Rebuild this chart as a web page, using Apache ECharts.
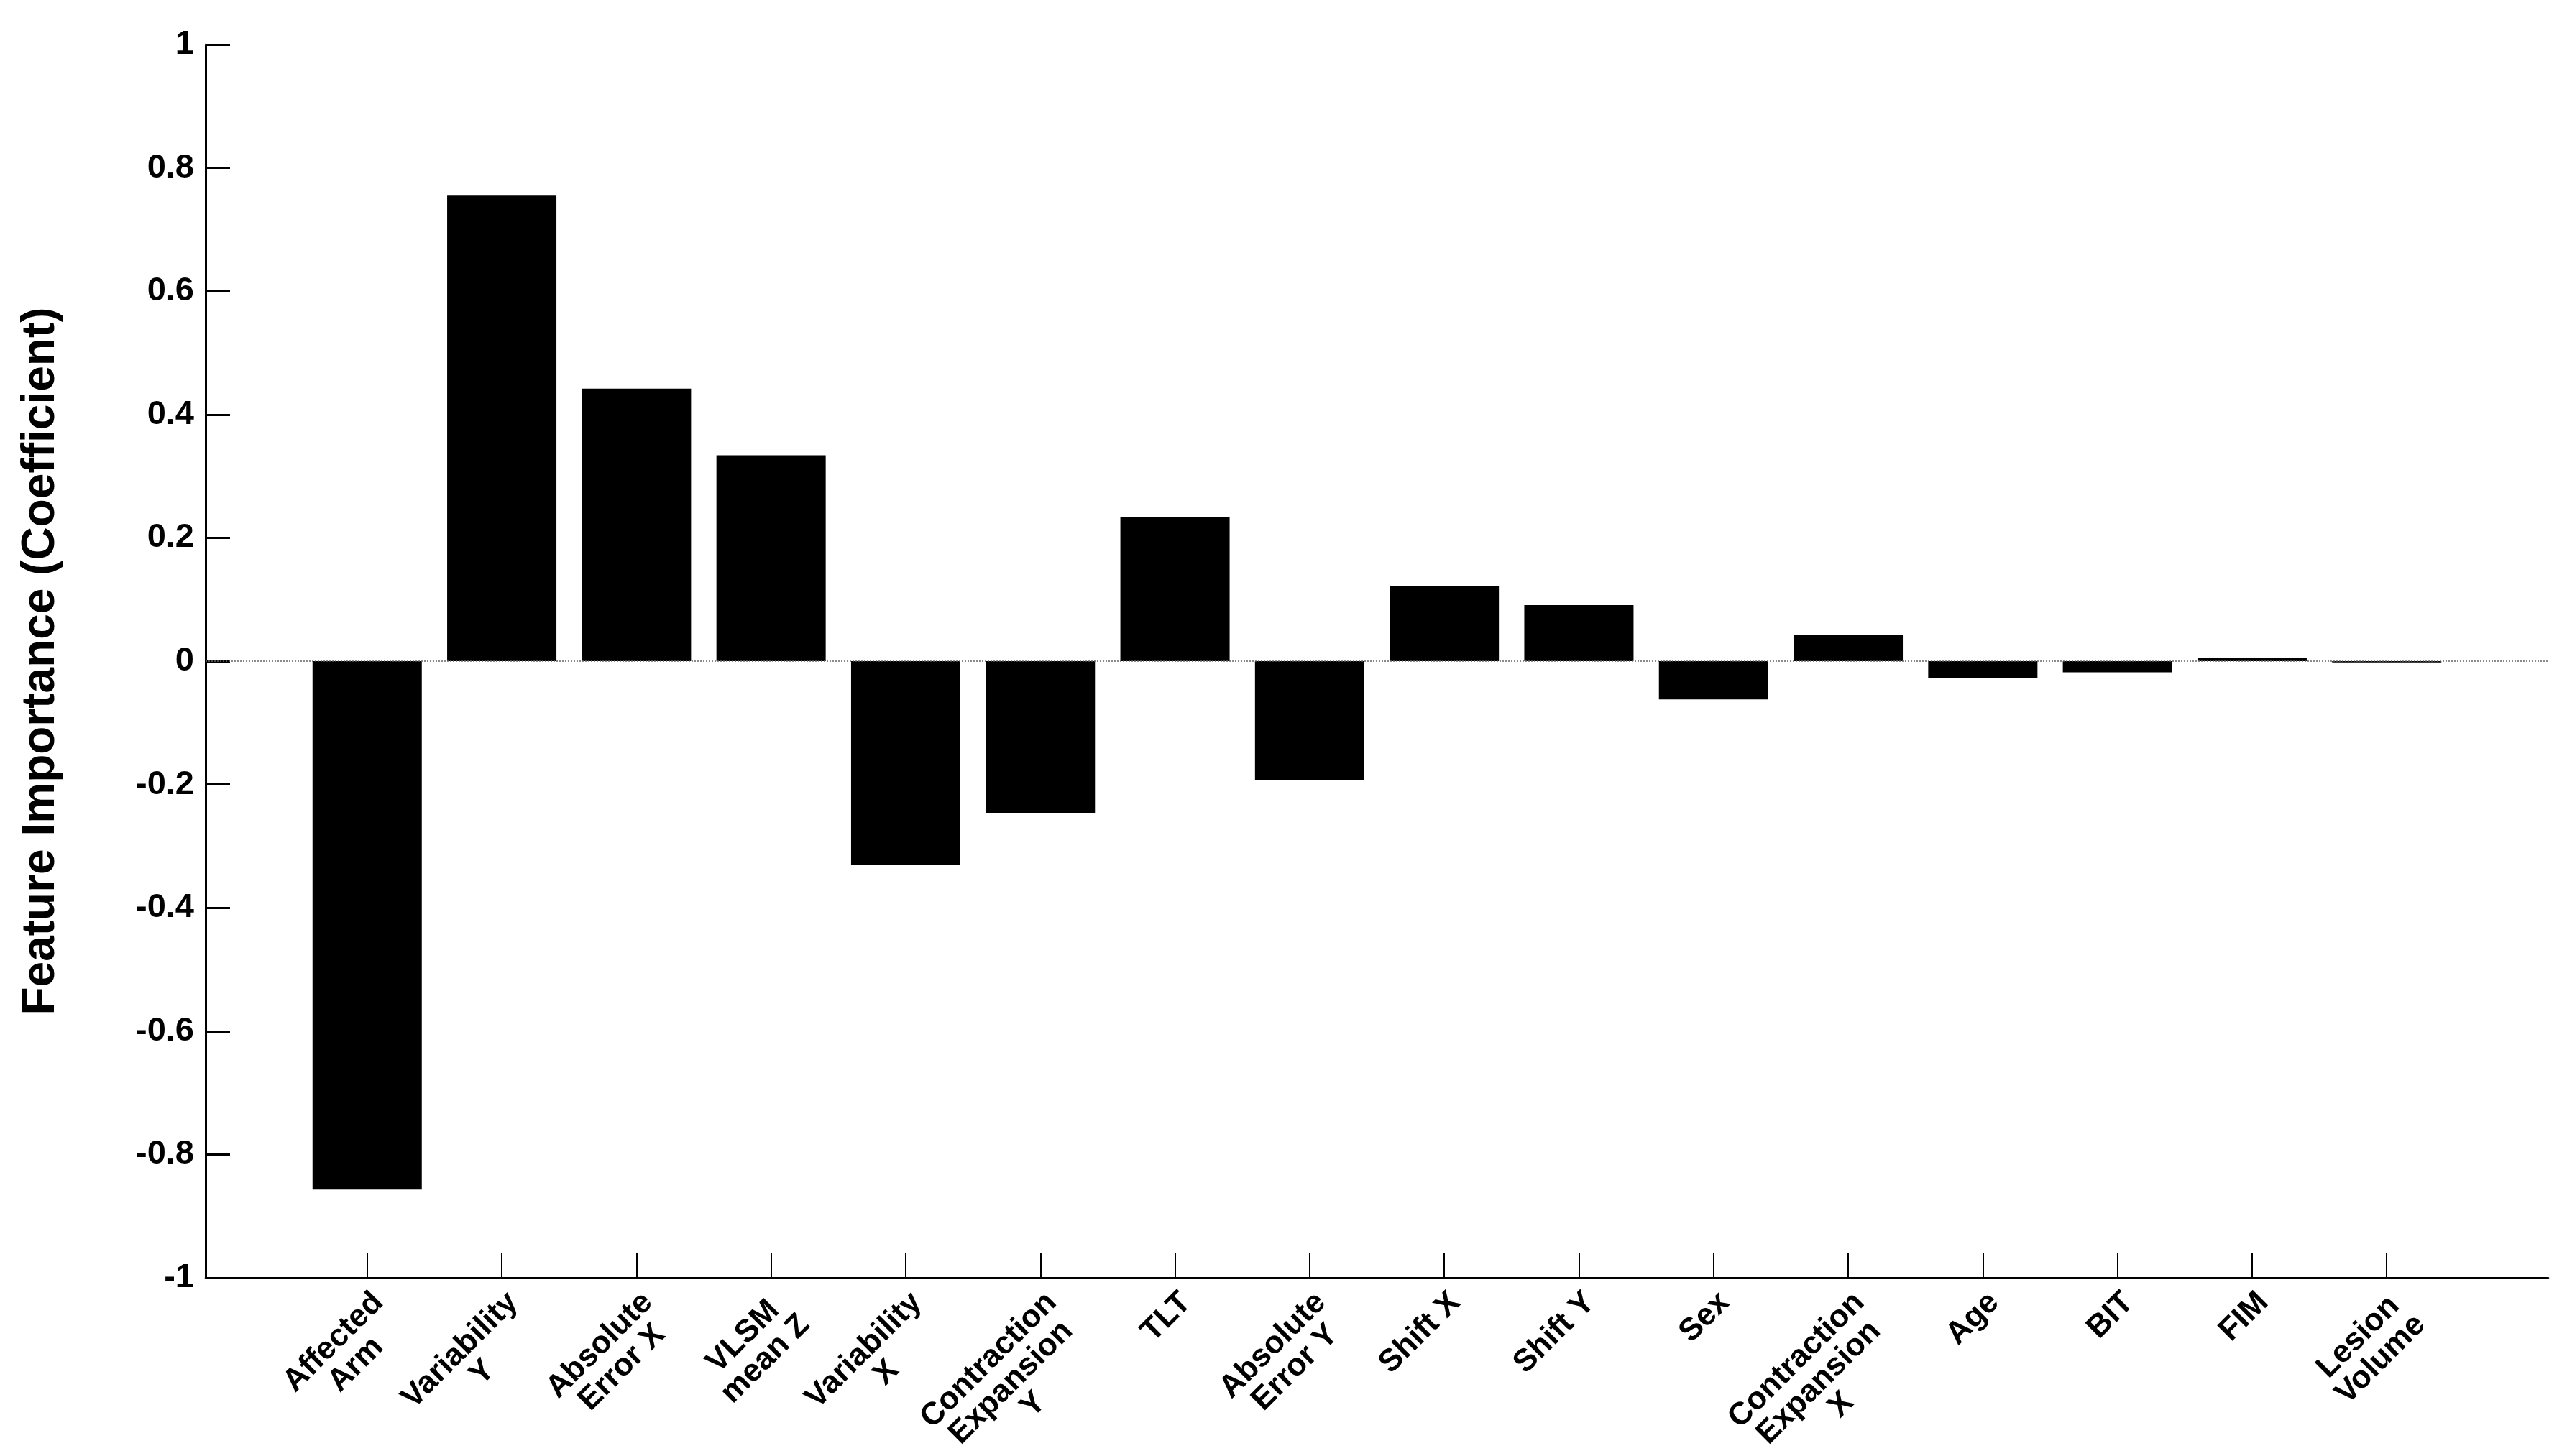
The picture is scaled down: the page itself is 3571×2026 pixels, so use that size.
<!DOCTYPE html>
<html>
<head>
<meta charset="utf-8">
<script src="https://cdn.jsdelivr.net/npm/echarts@6/dist/echarts.min.js"></script>
<style>
html,body{margin:0;padding:0;background:#fff;}
#chart{width:3571px;height:2026px;}
</style>
</head>
<body>
<div id="chart"></div>
<script>
const categories = [
  "Affected\nArm", "Variability\nY", "Absolute\nError X", "VLSM\nmean Z",
  "Variability\nX", "Contraction\nExpansion\nY", "TLT", "Absolute\nError Y",
  "Shift X", "Shift Y", "Sex", "Contraction\nExpansion\nX",
  "Age", "BIT", "FIM", "Lesion\nVolume"
];
const coefficients = [
  -0.857, 0.755, 0.442, 0.334,
  -0.330, -0.246, 0.234, -0.193,
  0.122, 0.091, -0.062, 0.042,
  -0.027, -0.018, 0.005, -0.002
];
const yTicks = [-1, -0.8, -0.6, -0.4, -0.2, 0, 0.2, 0.4, 0.6, 0.8, 1];
const yTitle = "Feature Importance (Coefficient)";

const FONT = "'Liberation Sans', Arial, Helvetica, sans-serif";
const positions = categories.map((c, i) => i);

const chart = echarts.init(document.getElementById('chart'), null, {renderer: 'canvas'});
chart.setOption({
  animation: false,
  backgroundColor: '#ffffff',
  grid: {left: 286, right: 26, top: 62, bottom: 248, containLabel: false, outerBoundsMode: 'none'},
  xAxis: {
    type: 'value',
    min: -1.2,
    max: 16.2,
    position: 'bottom',
    axisLine: {show: true, onZero: false, lineStyle: {color: '#000', width: 3}},
    axisTick: {show: true, inside: true, length: 35, customValues: positions, lineStyle: {color: '#000', width: 2}},
    splitLine: {show: false},
    axisLabel: {
      show: true,
      customValues: positions,
      rotate: 45,
      align: 'right',
      verticalAlign: 'top',
      margin: 12,
      formatter: function (v) {
        const name = categories[Math.round(v)];
        if (name === undefined) return '';
        return name.split('\n').map(l => '{c|' + l + '}').join('\n');
      },
      rich: {
        c: {fontSize: 44, fontWeight: 'bold', fontFamily: FONT, color: '#000', lineHeight: 44, align: 'center'}
      }
    }
  },
  yAxis: {
    type: 'value',
    min: -1,
    max: 1,
    interval: 0.2,
    name: yTitle,
    nameLocation: 'middle',
    nameGap: 197,
    nameTextStyle: {fontSize: 64, fontWeight: 'bold', fontFamily: FONT, color: '#000'},
    axisLine: {show: true, onZero: false, lineStyle: {color: '#000', width: 3}},
    axisTick: {show: true, inside: true, length: 34, lineStyle: {color: '#000', width: 3}},
    splitLine: {show: false},
    axisLabel: {
      margin: 16,
      fontSize: 47,
      fontWeight: 'bold',
      fontFamily: FONT,
      color: '#000',
      formatter: function (v) { return String(Math.round(v * 10) / 10); }
    }
  },
  series: [{
    type: 'bar',
    data: coefficients.map((v, i) => [positions[i], v]),
    barWidth: 152,
    itemStyle: {color: '#000'},
    silent: true,
    markLine: {
      silent: true,
      symbol: 'none',
      label: {show: false},
      lineStyle: {color: '#666', type: [2, 2], width: 1.5},
      data: [{yAxis: 0}]
    }
  }]
});
</script>
</body>
</html>
